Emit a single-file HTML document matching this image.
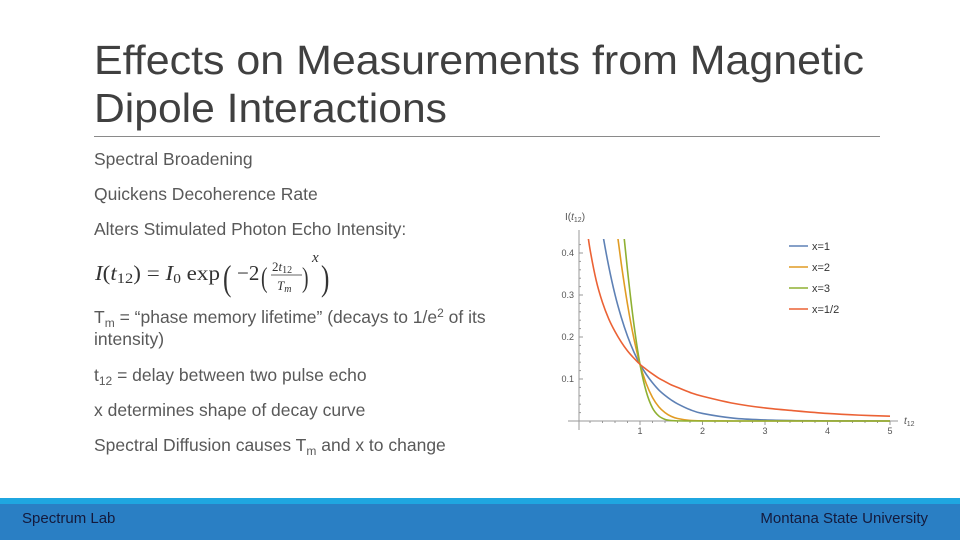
<!DOCTYPE html>
<html><head><meta charset="utf-8"><style>
body{margin:0;width:960px;height:540px;overflow:hidden;background:#fff;font-family:"Liberation Sans",sans-serif}
svg{display:block}
</style></head><body>
<svg width="960" height="540" viewBox="0 0 960 540">
<g fill="#404040" font-size="41">
<text x="94" y="74" textLength="770" lengthAdjust="spacingAndGlyphs">Effects on Measurements from Magnetic</text>
<text x="94" y="122" textLength="353" lengthAdjust="spacingAndGlyphs">Dipole Interactions</text>
</g>
<line x1="94" y1="136.5" x2="880" y2="136.5" stroke="#8a8a8a" stroke-width="1"/>
<g fill="#595959" font-size="17.5">
<text x="94" y="165">Spectral Broadening</text>
<text x="94" y="200">Quickens Decoherence Rate</text>
<text x="94" y="235">Alters Stimulated Photon Echo Intensity:</text>
<text x="94" y="323">T<tspan font-size="12" dy="4">m</tspan><tspan dy="-4"> = “phase memory lifetime” (decays to 1/e</tspan><tspan font-size="12" dy="-6">2</tspan><tspan dy="6"> of its</tspan></text>
<text x="94" y="345">intensity)</text>
<text x="94" y="381">t<tspan font-size="12" dy="4">12</tspan><tspan dy="-4"> = delay between two pulse echo</tspan></text>
<text x="94" y="416">x determines shape of decay curve</text>
<text x="94" y="451">Spectral Diffusion causes T<tspan font-size="12" dy="4">m</tspan><tspan dy="-4"> and x to change</tspan></text>
</g>
<g font-family="Liberation Serif" fill="#333">
<text x="95" y="280" font-size="21" textLength="125" lengthAdjust="spacingAndGlyphs"><tspan font-style="italic">I</tspan>(<tspan font-style="italic">t</tspan><tspan font-size="15" dy="3">12</tspan><tspan dy="-3">) = </tspan><tspan font-style="italic">I</tspan><tspan font-size="14" dy="3">0</tspan><tspan dy="-3"> exp</tspan></text>
<text x="223" y="290" font-size="36" font-weight="100" transform="translate(223 290) scale(0.7 1) translate(-223 -290)">(</text>
<text x="237" y="280" font-size="21">−2</text>
<text x="261" y="287" font-size="28" transform="translate(261 287) scale(0.7 1) translate(-261 -287)">(</text>
<text x="272" y="271" font-size="13">2<tspan font-style="italic">t</tspan><tspan font-size="10" dy="2">12</tspan></text>
<line x1="271" y1="275" x2="302" y2="275" stroke="#333" stroke-width="0.8"/>
<text x="277" y="290" font-size="13" font-style="italic">T<tspan font-size="10" dy="2">m</tspan></text>
<text x="302" y="287" font-size="28" transform="translate(302 287) scale(0.7 1) translate(-302 -287)">)</text>
<text x="312" y="262" font-size="15" font-style="italic">x</text>
<text x="321" y="290" font-size="36" transform="translate(321 290) scale(0.7 1) translate(-321 -290)">)</text>
</g>
<g id="chart"></g>
<g>
<rect x="0" y="498" width="960" height="6" fill="#1fa6e0"/>
<rect x="0" y="504" width="960" height="36" fill="#2a7fc4"/>
<text x="22" y="523" font-size="15" fill="#141a3c">Spectrum Lab</text>
<text x="928" y="523" font-size="15" fill="#141a3c" text-anchor="end">Montana State University</text>
</g>
</svg>
<script>
const tValues=[0.15,0.2,0.3,0.4,0.5,0.6,0.7,0.8,0.9,1.0,1.1,1.2,1.3,1.4,1.5,1.6,1.8,2.0,2.5,3,3.5,4,4.5,5];
const seriesX1=[0.741,0.670,0.549,0.449,0.368,0.301,0.247,0.202,0.165,0.135,0.111,0.091,0.074,0.061,0.050,0.041,0.027,0.018,0.0067,0.0025,0.0009,0.0003,0.0001,0];
const seriesX2=[0.956,0.923,0.835,0.726,0.607,0.487,0.375,0.278,0.198,0.135,0.089,0.056,0.034,0.020,0.011,0.006,0.0015,0.0003,0,0,0,0,0,0];
const seriesX3=[0.993,0.984,0.947,0.880,0.779,0.649,0.504,0.359,0.233,0.135,0.070,0.031,0.012,0.004,0.001,0.0003,0,0,0,0,0,0,0,0];
const seriesXHalf=[0.461,0.409,0.334,0.282,0.243,0.213,0.188,0.167,0.150,0.135,0.123,0.112,0.102,0.094,0.086,0.080,0.068,0.059,0.042,0.031,0.024,0.018,0.014,0.0114];
const seriesNames=["x=1","x=2","x=3","x=1/2"];
const xTicks=[1,2,3,4,5];
const yTicks=[0.1,0.2,0.3,0.4];
const NS="http://www.w3.org/2000/svg";
const g=document.getElementById('chart');
const X=t=>577.5+62.5*t, Y=v=>421-420*v;
function mk(tag,at,parent){const e=document.createElementNS(NS,tag);for(const k in at)e.setAttribute(k,at[k]);(parent||g).appendChild(e);return e;}
const defs=mk('defs',{});
const cp=mk('clipPath',{id:'plotclip'},defs);
mk('rect',{x:579,y:239,width:320,height:190},cp);
const ax=mk('line',{x1:568,y1:421,x2:898,y2:421,stroke:'#999','stroke-width':1});


const ay=mk('line',{x1:579,y1:230,x2:579,y2:430,stroke:'#999','stroke-width':1});


for(let i=1;i<=25;i++){const t=i*0.2;const big=i%5===0;mk('line',{x1:X(t),y1:421,x2:X(t),y2:big?425:423,stroke:'#999'});}
for(let i=1;i<=21;i++){const v=i*0.02;const big=i%5===0;mk('line',{x1:579,y1:Y(v),x2:big?583:581,y2:Y(v),stroke:'#999'});}
xTicks.forEach(t=>{const e=mk('text',{x:X(t),y:434,'font-size':9,fill:'#555','text-anchor':'middle'});e.textContent=t;

});
yTicks.forEach(v=>{const e=mk('text',{x:574,y:Y(v)+3,'font-size':9,fill:'#555','text-anchor':'end'});e.textContent=v.toFixed(1);

});
const yt=mk('text',{x:565,y:220,'font-size':10,fill:'#555'});yt.innerHTML='I(<tspan font-style="italic">t</tspan><tspan font-size="7" dy="2">12</tspan><tspan dy="-2">)</tspan>';


const xt=mk('text',{x:904,y:424,'font-size':10,fill:'#555','font-style':'italic'});xt.innerHTML='t<tspan font-size="7" font-style="normal" dy="2">12</tspan>';


const all=[seriesX1,seriesX2,seriesX3,seriesXHalf];
const colors=['#5e81b5','#e19c24','#8fb032','#eb6235'];
const lineNames=['line-x1','line-x2','line-x3','line-x-half'];
function smooth(pts){let d='M'+pts[0][0]+','+pts[0][1];for(let i=0;i<pts.length-1;i++){const p0=pts[i-1]||pts[i],p1=pts[i],p2=pts[i+1],p3=pts[i+2]||p2;
d+=' C'+(p1[0]+(p2[0]-p0[0])/6)+','+(p1[1]+(p2[1]-p0[1])/6)+' '+(p2[0]-(p3[0]-p1[0])/6)+','+(p2[1]-(p3[1]-p1[1])/6)+' '+p2[0]+','+p2[1];}return d;}
all.forEach((s,k)=>{const pts=tValues.map((t,i)=>[X(t),Y(s[i])]);
const p=mk('path',{d:smooth(pts),fill:'none',stroke:colors[k],'stroke-width':1.6,'clip-path':'url(#plotclip)'});

});
seriesNames.forEach((n,k)=>{const y=246+k*21;
const e=mk('line',{x1:789,y1:y,x2:808,y2:y,stroke:colors[k],'stroke-width':1.6});


const tx=mk('text',{x:812,y:y+4,'font-size':11,fill:'#333'});tx.textContent=n;

});
</script>
</body></html>
